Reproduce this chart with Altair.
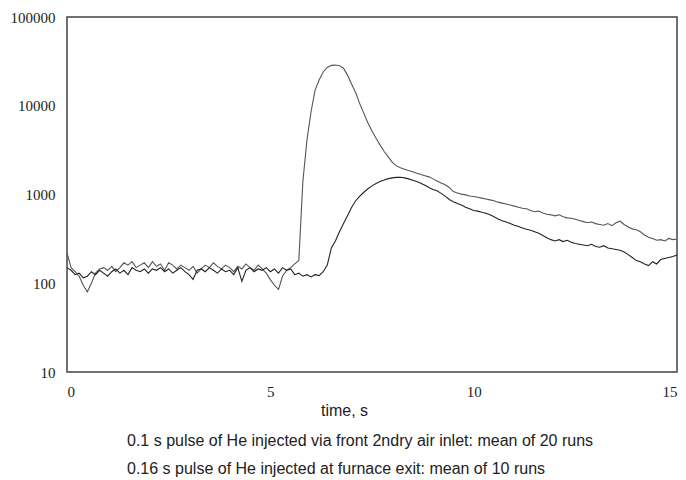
import altair as alt
import pandas as pd

# time axis (s), 0.1 s resolution
time_s = [round(i * 0.1, 1) for i in range(151)]

# 0.1 s pulse of He injected via front 2ndry air inlet (peaked trace)
series_front = [
    220, 150, 135, 120, 95, 80, 100, 130, 145, 150,
    140, 155, 135, 150, 170, 160, 175, 150, 160, 170,
    150, 175, 155, 165, 140, 170, 160, 145, 160, 150,
    140, 155, 130, 145, 160, 150, 170, 155, 145, 160,
    150, 135, 155, 145, 165, 150, 140, 160, 145, 130,
    110, 95, 85, 120, 140, 150, 165, 180, 1400, 4100,
    8500, 15000, 19500, 24000, 27000, 28500, 28800, 28300, 26500, 22000,
    17500, 14000, 10500, 8200, 6400, 5200, 4300, 3600, 3050, 2650,
    2300, 2100, 2000, 1930, 1860, 1800, 1740, 1680, 1630, 1580,
    1500, 1420, 1350, 1290, 1200, 1080, 1040, 1010, 990, 960,
    950, 930, 910, 890, 870, 850, 820, 800, 780, 760,
    740, 720, 700, 690, 660, 640, 650, 620, 600, 590,
    575, 590, 560, 545, 540, 525, 510, 495, 480, 490,
    470, 460, 450, 470, 445, 480, 500, 460, 430, 410,
    400, 380, 350, 330, 320, 305, 310, 300, 320, 310,
    315,
]

# 0.16 s pulse of He injected at furnace exit (broad trace)
series_exit = [
    150, 140, 125, 130, 115, 120, 135, 125, 140, 130,
    120, 135, 145, 130, 140, 125, 150, 140, 135, 145,
    130, 145, 140, 150, 135, 145, 130, 140, 150, 135,
    125, 110, 140, 145, 135, 150, 140, 130, 145, 135,
    140, 125, 150, 105, 140, 150, 135, 145, 140, 150,
    135, 145, 130, 150, 140, 145, 125, 130, 120, 125,
    118, 125, 122, 135, 160, 250, 300, 380, 470, 580,
    720, 850, 960, 1060, 1160, 1250, 1330, 1400, 1460, 1510,
    1540, 1560, 1565, 1540, 1500, 1450, 1400, 1340, 1270, 1200,
    1140, 1100, 1030, 960, 880, 830, 790, 760, 720, 690,
    660, 650, 630, 615, 590, 560, 530, 505, 490, 470,
    450, 435, 420, 405, 395, 380, 365, 345, 325, 310,
    300, 310, 295, 305, 290, 280, 275, 270, 265, 275,
    260, 255, 265, 250, 245, 240, 235, 225, 210, 195,
    180, 175, 165, 158, 175, 165, 185, 190, 195, 200,
    208,
]

series_names = ["front inlet", "furnace exit"]
x_ticks = [0, 5, 10, 15]
y_ticks = [10, 100, 1000, 10000, 100000]
caption_lines = [
    "0.1 s pulse of He injected via front 2ndry air inlet: mean of 20 runs",
    "0.16 s pulse of He injected at furnace exit: mean of 10 runs",
]

df = pd.concat([
    pd.DataFrame({"t": time_s, "v": series_front, "s": series_names[0]}),
    pd.DataFrame({"t": time_s, "v": series_exit, "s": series_names[1]}),
])

lines = alt.Chart(df).mark_line(strokeWidth=1.1).encode(
    x=alt.X("t:Q",
            scale=alt.Scale(domain=[0, 15], nice=False, zero=False),
            axis=alt.Axis(values=x_ticks, grid=False, ticks=False, domain=False,
                          labelFont="Liberation Serif", labelFontSize=15,
                          labelColor="#222", labelPadding=12,
                          title="time, s", titleFont="Liberation Sans",
                          titleFontSize=16, titleFontWeight="normal",
                          titleColor="#222", titleX=277, titleY=38,
                          titleBaseline="middle", titleAlign="center")),
    y=alt.Y("v:Q",
            scale=alt.Scale(type="log", domain=[10, 100000], nice=False),
            axis=alt.Axis(values=y_ticks, format="d", grid=False, ticks=False,
                          domain=False, labelFont="Liberation Serif",
                          labelFontSize=15, labelColor="#222", labelPadding=12,
                          title=None)),
    color=alt.Color("s:N", scale=alt.Scale(domain=series_names,
                                            range=["#555555", "#222222"]),
                    legend=None),
    detail="s:N",
)

cap_df = pd.DataFrame({"line": caption_lines})


def caption(i, ypos):
    return alt.Chart(cap_df).transform_filter(
        alt.datum.line == caption_lines[i]
    ).mark_text(align="left", baseline="middle", font="Liberation Sans",
                fontSize=16, color="#222").encode(
        x=alt.value(60), y=alt.value(ypos), text="line:N")


chart = alt.layer(lines, caption(0, 424), caption(1, 452)).properties(
    width=610, height=355,
    autosize=alt.AutoSizeParams(type="none"),
    padding={"left": 67, "top": 17, "right": 9, "bottom": 108},
    background="white",
).configure_view(stroke="#444444", strokeWidth=1.5)

chart.save("out.html", embed_options={"renderer": "svg", "actions": False})
